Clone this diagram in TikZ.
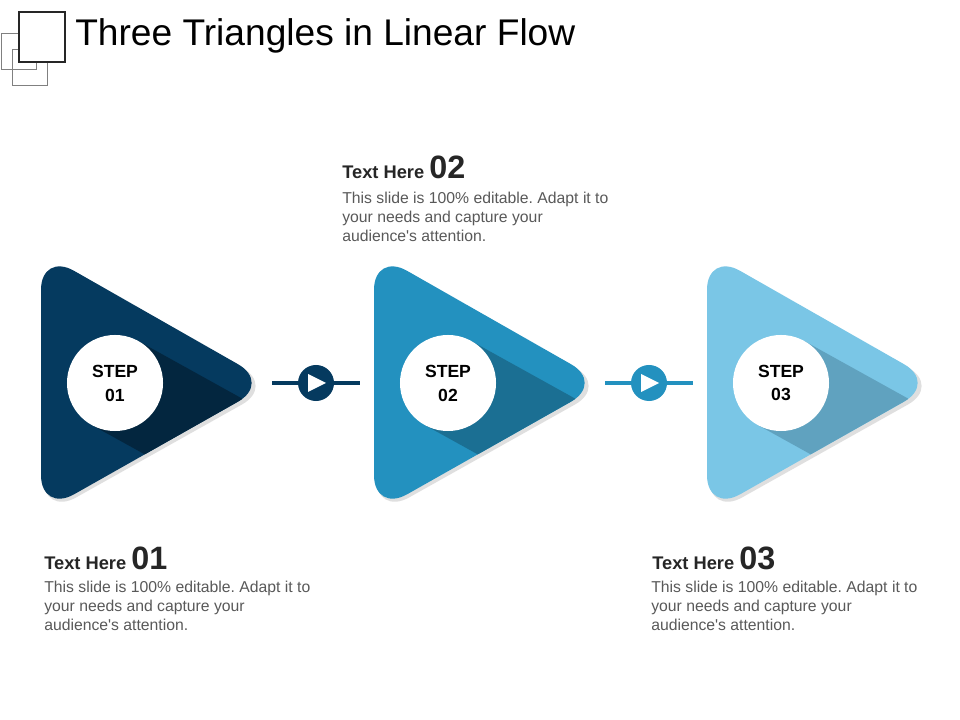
\documentclass[tikz,border=0pt]{standalone}
\usepackage{fontspec}
\setmainfont{Liberation Sans}
\usetikzlibrary{positioning}
\frenchspacing

\definecolor{stepA}{HTML}{053A5F}
\definecolor{stepAdark}{HTML}{03263F}
\definecolor{stepB}{HTML}{2391BF}
\definecolor{stepBdark}{HTML}{1B6F93}
\definecolor{stepC}{HTML}{7AC6E6}
\definecolor{stepCdark}{HTML}{60A2BF}
\definecolor{bodygray}{HTML}{595959}
\definecolor{headgray}{HTML}{262626}

\tikzset{
  stepdot/.style={circle, fill=white, minimum size=2.4cm, inner sep=0pt,
    align=center, font=\fontsize{12.5}{17}\selectfont\bfseries},
  playdot/.style={circle, minimum size=0.9cm, inner sep=0pt},
  headtext/.style={anchor=base west, inner sep=0pt, text=headgray,
    font=\fontsize{13}{15}\selectfont\bfseries},
  bodytext/.style={anchor=north west, inner sep=0pt, align=left, text=bodygray,
    font=\fontsize{11.2}{13.5}\selectfont}
}

\begin{document}
\begin{tikzpicture}[x=0.025cm, y=-0.025cm]
  \useasboundingbox[fill=white] (0,0) rectangle (960,720);

  % title and its icon
  \draw[gray, line width=0.7pt] (1,33) rectangle (36,69);
  \draw[gray, line width=0.7pt] (12,49) rectangle (47,85);
  \draw[black!85, fill=white, line width=1.5pt] (19,12) rectangle (65,62);
  \node[anchor=west, inner sep=0pt, font=\fontsize{26.4}{30}\selectfont] (title) at (75,36) {Three Triangles in Linear Flow};

  % the three triangles
  \foreach \i/\x/\main/\dark in {1/41/stepA/stepAdark, 2/374/stepB/stepBdark, 3/707/stepC/stepCdark} {
    \fill[gray!25, rounded corners=27] (\x+2,256) -- (\x+234,386) -- (\x+2,516) -- cycle;
    \fill[\main, rounded corners=27] (\x,252) -- (\x+230,383) -- (\x,513) -- cycle;
    \begin{scope}
      \clip[rounded corners=27] (\x,252) -- (\x+230,383) -- (\x,513) -- cycle;
      \fill[\dark] (\x+74,383) ++(-61:48) -- ++(29:300) -- ++(119:96) -- ++(209:300) -- cycle;
    \end{scope}
    \node[stepdot] (step\i) at (\x+74,383) {STEP\\0\i};
  }

  % play buttons between the steps
  \foreach \i/\x/\col in {1/316/stepA, 2/649/stepB} {
    \node[playdot, fill=\col] (play\i) at (\x,383) {};
    \coordinate (left\i) at (\x-44,383);
    \coordinate (right\i) at (\x+44,383);
    \draw[\col, line width=2.8pt] (left\i) -- (play\i) -- (right\i);
    \fill[white] (\x-8,374) -- (\x+10,383) -- (\x-8,392) -- cycle;
  }

  % texts
  \node[headtext] (head2) at (342,179) {Text Here \fontsize{23}{26}\selectfont 02};
  \node[bodytext] (body2) at (342,192) {This slide is 100\% editable. Adapt it to\\your needs and capture your\\audience\textquotesingle s attention.};
  \node[headtext] (head1) at (44,569) {Text Here \fontsize{23}{26}\selectfont 01};
  \node[bodytext] (body1) at (44,581) {This slide is 100\% editable. Adapt it to\\your needs and capture your\\audience\textquotesingle s attention.};
  \node[headtext] (head3) at (652,569) {Text Here \fontsize{23}{26}\selectfont 03};
  \node[bodytext] (body3) at (651,581) {This slide is 100\% editable. Adapt it to\\your needs and capture your\\audience\textquotesingle s attention.};
\end{tikzpicture}
\end{document}
